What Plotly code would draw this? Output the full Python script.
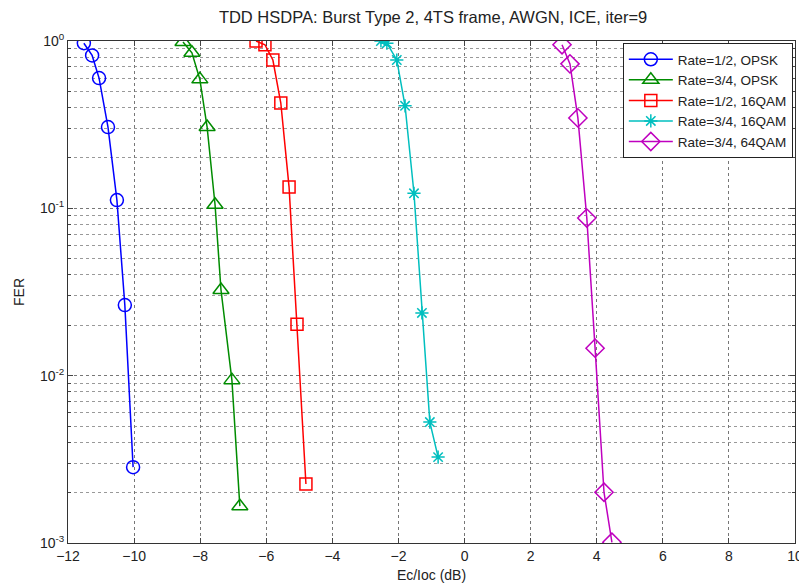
import plotly.graph_objects as go

title = "TDD HSDPA: Burst Type 2, 4TS frame, AWGN, ICE, iter=9"
names = ["Rate=1/2, OPSK", "Rate=3/4, OPSK", "Rate=1/2, 16QAM", "Rate=3/4, 16QAM", "Rate=3/4, 64QAM"]

x_r12_qpsk = [-11.52, -11.27, -11.06, -10.79, -10.52, -10.28, -10.03]
y_r12_qpsk = [0.97, 0.82, 0.60, 0.306, 0.112, 0.0264, 0.00284]

x_r34_qpsk = [-8.52, -8.25, -8.01, -7.79, -7.55, -7.37, -7.04, -6.80]
y_r34_qpsk = [0.986, 0.85, 0.59, 0.306, 0.105, 0.0325, 0.0094, 0.00166]

x_r12_16 = [-6.31, -6.04, -5.80, -5.56, -5.31, -5.07, -4.80]
y_r12_16 = [1.0, 0.95, 0.77, 0.426, 0.134, 0.0203, 0.00225]

x_r34_16 = [-2.53, -2.35, -2.05, -1.80, -1.53, -1.29, -1.05, -0.80]
y_r34_16 = [1.0, 0.97, 0.77, 0.41, 0.123, 0.0237, 0.00528, 0.00326]

x_r34_64 = [2.95, 3.19, 3.43, 3.70, 3.95, 4.22, 4.46]
y_r34_64 = [0.95, 0.73, 0.347, 0.0875, 0.0146, 0.00201, 0.00101]

x_ticks = [-12, -10, -8, -6, -4, -2, 0, 2, 4, 6, 8, 10]
y_ticks = [1e-3, 1e-2, 1e-1, 1]
y_ticktext = ["10<sup>-3</sup>", "10<sup>-2</sup>", "10<sup>-1</sup>", "10<sup>0</sup>"]

series = [
    (x_r12_qpsk, y_r12_qpsk, "rgb(0,0,255)", "circle-open", 13),
    (x_r34_qpsk, y_r34_qpsk, "rgb(0,140,0)", "triangle-up-open", 14),
    (x_r12_16, y_r12_16, "rgb(255,0,0)", "square-open", 12),
    (x_r34_16, y_r34_16, "rgb(0,191,191)", "asterisk-open", 11),
    (x_r34_64, y_r34_64, "rgb(191,0,191)", "diamond-open", 14),
]

fig = go.Figure()
for (xs, ys, col, sym, sz), nm in zip(series, names):
    fig.add_trace(go.Scatter(
        x=xs, y=ys, name=nm, mode="lines+markers",
        line=dict(color=col, width=1.5),
        marker=dict(symbol=sym, size=sz, color=col, line=dict(color=col, width=1.5)),
    ))

# page body has an 8px default margin: figure is 799x577 placed at (8,8)
font = "Liberation Sans, Arial, sans-serif"
fig.update_layout(
    width=799, height=577,
    margin=dict(l=60, r=12, t=33, b=42),
    paper_bgcolor="white", plot_bgcolor="white",
    font=dict(family=font, size=14, color="#222"),
    title=dict(text=title, x=0.532, xanchor="center", y=0.984, yanchor="middle",
               font=dict(size=16.5, family=font, color="#222")),
    showlegend=True,
    legend=dict(x=0.997, xanchor="right", y=0.996, yanchor="top",
                bgcolor="white", bordercolor="#222", borderwidth=1,
                font=dict(size=13.5, family=font), tracegroupgap=0,
                itemwidth=44, entrywidth=183),
    xaxis=dict(range=[-12, 10], tickvals=x_ticks, ticks="inside", ticklen=5,
               showline=True, linecolor="#333", linewidth=1, mirror="ticks",
               showgrid=True, gridcolor="#777", griddash="dot", gridwidth=1,
               zeroline=False, automargin=False,
               title=dict(text="Ec/Ioc (dB)", standoff=7, font=dict(size=14)),
               tickfont=dict(size=14)),
    yaxis=dict(type="log", range=[-3, 0], tickvals=y_ticks, ticktext=y_ticktext,
               ticks="inside", ticklen=5,
               showline=True, linecolor="#333", linewidth=1, mirror="ticks",
               showgrid=True, gridcolor="#777", griddash="dot", gridwidth=1,
               zeroline=False, automargin=False,
               minor=dict(dtick="D1", showgrid=True, gridcolor="#999", griddash="dot",
                          ticks="inside", ticklen=3),
               title=dict(text="FER", standoff=12, font=dict(size=14)),
               tickfont=dict(size=14)),
)

fig.write_html("out.html")
